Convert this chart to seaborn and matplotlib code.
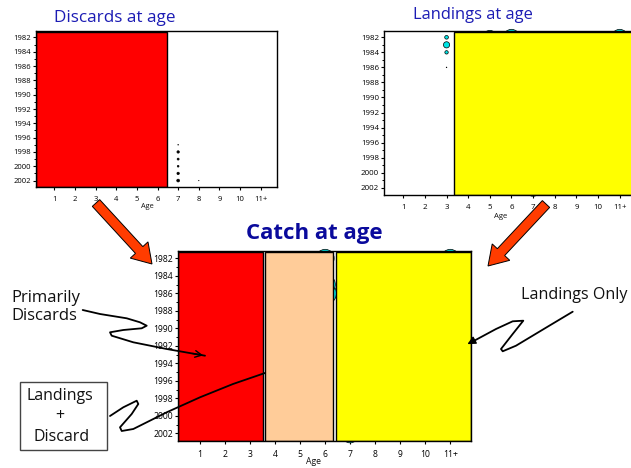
import matplotlib
matplotlib.use('Agg')
import matplotlib.pyplot as plt
import seaborn as sns
from matplotlib.patches import Rectangle, FancyArrow

W, H = 631, 468

# ----- DATA -----
ages = [1, 2, 3, 4, 5, 6, 7, 8, 9, 10, 11]
age_labels = ['1', '2', '3', '4', '5', '6', '7', '8', '9', '10', '11+']
year_ticks = list(range(1982, 2003, 2))
all_years = list(range(1982, 2003))

# bubbles that stick out of the solid blocks (value = bubble area)
discard_age = [7, 7, 7, 7, 7, 7, 8]
discard_year = [1997, 1998, 1999, 2000, 2001, 2002, 2002]
discard_val = [0.2, 3, 2, 1.5, 3, 4, 0.1]

landing_age = [3, 3, 3, 3, 5, 6, 11, 7]
landing_year = [1982, 1983, 1984, 1986, 1982, 1982, 1982, 2002]
landing_val = [7, 20, 6, 0.2, 100, 133, 133, 150]

catch_age = [6, 11, 7, 6, 6]
catch_year = [1982, 1982, 2002, 1986, 1985]
catch_val = [168, 168, 187, 265, 215]

# solid blocks: start age, end age
discard_blocks = [(0.13, 6.45)]
landing_blocks = [(3.35, 11.8)]
catch_blocks = [(0.11, 3.5), (3.61, 6.325), (6.43, 11.84)]
catch_colors = ['#ff0000', '#ffcc99', '#ffff00']

# ----- STYLE -----
sns.set_theme(style='ticks')
plt.rcParams['font.family'] = ['Open Sans', 'DejaVu Sans']
plt.rcParams['axes.linewidth'] = 1.0

fig = plt.figure(figsize=(W / 100, H / 100), dpi=100)


def make_panel(box, xlim, ylim, size, labels_pad):
    left, top, right, bottom = box
    ax = fig.add_axes([left / W, 1 - bottom / H, (right - left) / W, (bottom - top) / H])
    ax.set_xlim(*xlim)
    ax.set_ylim(*ylim)
    ax.set_xticks(ages)
    ax.set_xticklabels(age_labels)
    ax.set_yticks(year_ticks)
    ax.set_yticks(all_years, minor=True)
    ax.tick_params(axis='both', which='major', labelsize=size, length=2, width=0.8, colors='black', pad=labels_pad)
    ax.tick_params(axis='y', which='minor', length=1.2, width=0.7, color='black')
    ax.tick_params(axis='x', pad=labels_pad + 3)
    for s in ax.spines.values():
        s.set_color('black')
    return ax


def bubbles(ax, x, y, vals, color, edge='black'):
    sns.scatterplot(x=x, y=y, size=vals, sizes=(0, 300), size_norm=(0, 300), color=color,
                    edgecolor=edge, linewidth=0.5, legend=False, clip_on=False, zorder=1, ax=ax)


def blocks(ax, spans, colors, top, bottom):
    for (a, b), c in zip(spans, colors):
        ax.add_patch(Rectangle((a, top), b - a, bottom - top, facecolor=c, edgecolor='black',
                               linewidth=1.0, zorder=2))


# ----- DISCARDS -----
ax1 = make_panel((36, 31, 277, 187), (0.113, 11.79), (2002.9, 1981.1), 5.5, 1.5)
bubbles(ax1, discard_age, discard_year, discard_val, 'black')
blocks(ax1, discard_blocks, ['#ff0000'], 1981.26, 2002.9)

# ----- LANDINGS -----
ax2 = make_panel((384, 31, 637, 195), (0.11, 11.8), (2002.97, 1981.16), 5.7, 1.5)
bubbles(ax2, landing_age, landing_year, landing_val, '#00e5e5')
blocks(ax2, landing_blocks, ['#ffff00'], 1981.33, 2002.97)

# ----- CATCH -----
ax3 = make_panel((177.7, 251.3, 471.3, 441.3), (0.11, 11.84), (2002.91, 1981.2), 6.2, 1.5)
bubbles(ax3, catch_age, catch_year, catch_val, '#00e5e5')
blocks(ax3, catch_blocks, catch_colors, 1981.3, 2002.91)

# ----- OVERLAY: titles, arrows, notes (in pixel coordinates) -----
ov = fig.add_axes([0, 0, 1, 1], facecolor='none', zorder=10)
ov.set_xlim(0, W)
ov.set_ylim(H, 0)
ov.axis('off')


def label(x, y, txt, size, color='#111111', **kw):
    ov.text(x, y, txt, fontsize=size, color=color, ha=kw.pop('ha', 'center'), va='center', **kw)


label(115, 18, 'Discards at age', 12.3, '#1c1cb4')
label(473, 15, 'Landings at age', 11.9, '#1c1cb4')
label(314, 234, 'Catch at age', 16, '#0a0a9c', fontweight='bold')
label(147, 206, 'Age', 5.3)
label(501, 217, 'Age', 5.6)
label(313, 462, 'Age', 6.2)
label(11, 307, 'Primarily\nDiscards', 12, ha='left', linespacing=1.25)
label(574, 295, 'Landings Only', 11.6)

ov.add_patch(Rectangle((19.5, 381.7), 87, 68.6, facecolor='white', edgecolor='#444444', linewidth=1))
label(60, 396, 'Landings', 11.5)
label(60, 416, '+', 11.5)
label(62, 437, 'Discard', 11.5)

for x0, y0, x1, y1 in [(96, 203, 152, 264), (546, 204, 488, 266)]:
    ov.add_patch(FancyArrow(x0, y0, x1 - x0, y1 - y0, width=10, head_width=24, head_length=19,
                            length_includes_head=True, facecolor='#ff3c00', edgecolor='black', linewidth=0.7))

squiggle_x = [82.7, 100, 126.7, 140, 146.7, 141.7, 123.3, 110, 111.7, 133.3, 166.7, 205]
squiggle_y = [310, 314, 318.3, 322.3, 325.7, 328.3, 330, 332.3, 335.7, 342.3, 349, 355.7]
ov.plot(squiggle_x, squiggle_y, color='black', lw=1.3, solid_joinstyle='round')
ov.annotate('', xy=(206, 355.9), xytext=(190, 353), arrowprops=dict(arrowstyle='->', color='black', lw=1))

squiggle_x = [110, 123.3, 136.7, 138.3, 131.7, 120, 121.7, 133.3, 166.7, 200, 233, 265]
squiggle_y = [416, 407.3, 400.7, 404, 414, 427.3, 431, 429, 412.3, 397.3, 384, 373]
ov.plot(squiggle_x, squiggle_y, color='black', lw=1.3, solid_joinstyle='round')

squiggle_x = [572.7, 549.3, 516, 502.7, 501, 512.7, 523.3, 512.7, 496, 470]
squiggle_y = [311.7, 325.7, 345.7, 351.3, 349, 334, 320.7, 321.3, 329, 343]
ov.plot(squiggle_x, squiggle_y, color='black', lw=1.3, solid_joinstyle='round')
ov.annotate('', xy=(465, 345.5), xytext=(475, 340), arrowprops=dict(arrowstyle='-|>', color='black', lw=1))

fig.savefig('out.png', dpi=100)
